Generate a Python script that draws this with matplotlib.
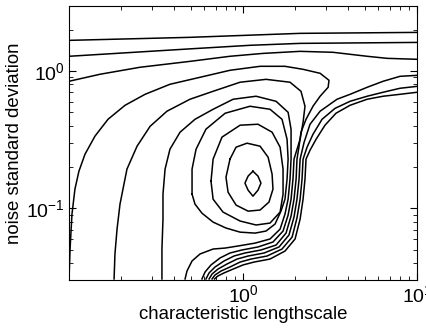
import numpy as np
import matplotlib
matplotlib.use('Agg')
import matplotlib.pyplot as plt

plt.rcParams['font.family'] = ['Liberation Sans', 'DejaVu Sans']
plt.rcParams['mathtext.fontset'] = 'custom'
plt.rcParams['mathtext.rm'] = 'Liberation Sans'
plt.rcParams['mathtext.it'] = 'Liberation Sans:italic'

# contour lines, as log10(lengthscale), log10(noise sd)
a_ls = [-1.0, -0.305, 0.328, 1.0]
a_sn = [0.224, 0.246, 0.275, 0.282]
b_ls = [-1.0, -0.305, 0.040, 0.328, 1.0]
b_sn = [0.108, 0.162, 0.188, 0.202, 0.209]
c_ls = [-1.0, -0.822, -0.592, -0.305, -0.075, 0.115, 0.328, 0.517, 0.713, 0.828, 1.0]
c_sn = [-0.074, -0.023, 0.028, 0.071, 0.108, 0.129, 0.144, 0.137, 0.108, 0.093, 0.086]

d_ls = [-1.0, -0.994, -0.983, -0.966, -0.943, -0.908, -0.851, -0.776, -0.678, -0.563, -0.420,
        -0.247, -0.075, 0.098, 0.241, 0.345, 0.443, 0.494, 0.489, 0.443, 0.402, 0.362, 0.333,
        0.322, 0.310, 0.305, 0.293, 0.276, 0.247, 0.190, 0.103, 0.011, -0.052, -0.109, -0.161,
        -0.195, -0.213]
d_sn = [-1.514, -1.296, -1.042, -0.860, -0.729, -0.605, -0.474, -0.351, -0.249, -0.169, -0.096,
        -0.045, 0.006, 0.035, 0.035, 0.013, -0.016, -0.067, -0.118, -0.183, -0.256, -0.351, -0.445,
        -0.547, -0.641, -0.787, -0.933, -1.056, -1.180, -1.267, -1.303, -1.325, -1.347, -1.383,
        -1.427, -1.470, -1.514]

e_ls = [-0.741, -0.736, -0.724, -0.707, -0.690, -0.667, -0.609, -0.534, -0.437, -0.305, -0.172,
        -0.017, 0.132, 0.270, 0.333, 0.356, 0.345, 0.328, 0.293, 0.287, 0.276, 0.259, 0.230,
        0.172, 0.086, -0.006, -0.075, -0.132, -0.184, -0.218, -0.236]
e_sn = [-1.514, -1.332, -1.151, -0.969, -0.860, -0.714, -0.547, -0.402, -0.292, -0.205, -0.147,
        -0.081, -0.060, -0.081, -0.147, -0.256, -0.373, -0.496, -0.641, -0.787, -0.933, -1.049,
        -1.165, -1.245, -1.281, -1.303, -1.325, -1.361, -1.412, -1.463, -1.514]

f_ls = [-0.466, -0.466, -0.460, -0.460, -0.448, -0.420, -0.362, -0.276, -0.172, -0.057, 0.075,
        0.190, 0.259, 0.276, 0.276, 0.276, 0.270, 0.259, 0.241, 0.213, 0.155, 0.069, -0.029,
        -0.103, -0.172, -0.247, -0.293, -0.322, -0.333]
f_sn = [-1.514, -1.296, -1.078, -0.896, -0.714, -0.569, -0.445, -0.351, -0.278, -0.205, -0.183,
        -0.220, -0.300, -0.424, -0.547, -0.641, -0.787, -0.933, -1.042, -1.151, -1.223, -1.253,
        -1.274, -1.289, -1.296, -1.332, -1.383, -1.456, -1.514]

r1_ls = [1.0, 0.902, 0.805, 0.713, 0.615, 0.540, 0.443, 0.385, 0.351, 0.328, 0.322, 0.310,
         0.293, 0.264, 0.207, 0.121, 0.029, -0.034, -0.092, -0.144, -0.178, -0.195]
r1_sn = [-0.031, -0.038, -0.074, -0.118, -0.169, -0.205, -0.292, -0.387, -0.518, -0.641, -0.787,
         -0.933, -1.063, -1.194, -1.281, -1.325, -1.347, -1.369, -1.405, -1.442, -1.478, -1.514]
r2_ls = [1.0, 0.902, 0.805, 0.713, 0.615, 0.529, 0.454, 0.402, 0.368, 0.345, 0.339, 0.328,
         0.310, 0.282, 0.224, 0.138, 0.046, -0.017, -0.075, -0.126, -0.161, -0.178]
r2_sn = [-0.111, -0.125, -0.154, -0.183, -0.220, -0.271, -0.351, -0.460, -0.554, -0.641, -0.787,
         -0.933, -1.070, -1.209, -1.296, -1.347, -1.369, -1.391, -1.427, -1.456, -1.485, -1.514]
r3_ls = [1.0, 0.902, 0.805, 0.713, 0.615, 0.534, 0.471, 0.420, 0.385, 0.362, 0.356, 0.345,
         0.328, 0.299, 0.241, 0.155, 0.063, 0.0, -0.057, -0.109, -0.144, -0.164]
r3_sn = [-0.154, -0.169, -0.183, -0.205, -0.249, -0.307, -0.394, -0.496, -0.576, -0.641, -0.787,
         -0.933, -1.078, -1.223, -1.311, -1.369, -1.391, -1.412, -1.442, -1.470, -1.492, -1.514]

# closed rings round the maximum, outer to inner
loop3_ls = [-0.293, -0.293, -0.270, -0.213, -0.103, 0.040, 0.155, 0.224, 0.253, 0.259, 0.253,
            0.241, 0.218, 0.184, 0.132, 0.069, -0.017, -0.098, -0.172, -0.236, -0.276, -0.293]
loop3_sn = [-0.896, -0.714, -0.569, -0.423, -0.307, -0.256, -0.278, -0.351, -0.496, -0.641,
            -0.787, -0.933, -1.020, -1.114, -1.165, -1.180, -1.173, -1.143, -1.100, -1.035,
            -0.969, -0.896]
loop2_ls = [-0.184, -0.172, -0.121, -0.017, 0.086, 0.167, 0.213, 0.230, 0.230, 0.213, 0.155,
            0.075, -0.017, -0.115, -0.172, -0.184]
loop2_sn = [-0.802, -0.641, -0.481, -0.394, -0.387, -0.445, -0.554, -0.714, -0.896, -1.027,
            -1.107, -1.121, -1.092, -1.027, -0.933, -0.802]
loop1_ls = [-0.075, -0.040, 0.023, 0.098, 0.144, 0.167, 0.172, 0.149, 0.098, 0.029, -0.040,
            -0.086, -0.098, -0.075]
loop1_sn = [-0.641, -0.554, -0.525, -0.547, -0.627, -0.751, -0.860, -0.954, -1.012, -1.020,
            -0.976, -0.882, -0.773, -0.641]
top_ls = [0.057, 0.086, 0.103, 0.086, 0.057, 0.029, 0.011, 0.029, 0.057]
top_sn = [-0.729, -0.765, -0.816, -0.867, -0.911, -0.867, -0.816, -0.765, -0.729]

contours = [(a_ls, a_sn), (b_ls, b_sn), (c_ls, c_sn), (d_ls, d_sn), (e_ls, e_sn),
            (f_ls, f_sn), (r1_ls, r1_sn), (r2_ls, r2_sn), (r3_ls, r3_sn),
            (loop3_ls, loop3_sn), (loop2_ls, loop2_sn), (loop1_ls, loop1_sn), (top_ls, top_sn)]

fig = plt.figure(figsize=(4.26, 3.30), dpi=100)
ax = fig.add_axes([0.162, 0.151, 0.817, 0.832])

for ls, sn in contours:
    ax.plot(10 ** np.array(ls), 10 ** np.array(sn), color='black', lw=1.1)

ax.set_xscale('log')
ax.set_yscale('log')
ax.set_xlim(0.1, 10)
ax.set_ylim(0.03, 3)
ax.set_xticks([1, 10])
ax.set_yticks([0.1, 1])
ax.tick_params(which='both', direction='in', top=True, right=True, labelsize=14)
ax.tick_params(which='major', length=5, pad=3)
ax.tick_params(which='minor', length=3)
for s in ax.spines.values():
    s.set_linewidth(0.8)
ax.set_xlabel('characteristic lengthscale', fontsize=13.4, labelpad=0)
ax.set_ylabel('noise standard deviation', fontsize=13.4, labelpad=2)

fig.savefig('out.png', dpi=100)
